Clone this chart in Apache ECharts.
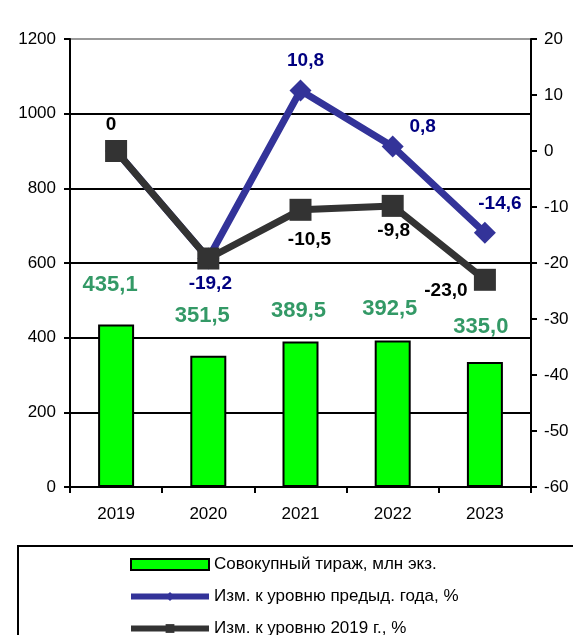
<!DOCTYPE html>
<html>
<head>
<meta charset="utf-8">
<script src="https://cdn.jsdelivr.net/npm/echarts@6/dist/echarts.min.js"></script>
<style>
  html, body { margin: 0; padding: 0; background: #fff; }
  #chart { width: 573px; height: 635px; }
</style>
</head>
<body>
<div id="chart"></div>
<script>
// ── Данные ───────────────────────────────────────
const years = ['2019', '2020', '2021', '2022', '2023'];
const circulation = [435.1, 351.5, 389.5, 392.5, 335.0];      // млн экз.
const changePrevYear = [0, -19.2, 10.8, 0.8, -14.6];           // %
const change2019 = [0, -19.2, -10.5, -9.8, -23.0];             // %

const leftTicks = { min: 0, max: 1200, interval: 200 };
const rightTicks = { min: -60, max: 20, interval: 10 };

const seriesNames = [
  'Совокупный тираж, млн экз.',
  'Изм. к уровню предыд. года, %',
  'Изм. к уровню 2019 г., %'
];

// ── Расположение подписей (как вручную сдвинуто в Excel) ──
const barLabelShift = [[-6, -29], [-6, -29], [-2, -20], [-3, -21], [-4, -24]];
const prevLabelShift = [null, [2, 25], [5, -30], [30, -20], [15, -29]];
const base2019LabelShift = [[-5, -26], null, [9, 30], [1, 25], [-39, 11]];

const fmt = v => (v === 0 ? '0' : v.toFixed(1).replace('.', ','));
const FONT = '"Liberation Sans", Arial, sans-serif';

const chart = echarts.init(document.getElementById('chart'), null, { renderer: 'canvas' });

const lineData = (values, shifts, color) => values.map((v, i) => ({
  value: v,
  label: shifts[i]
    ? { show: true, position: 'inside', offset: shifts[i], color, formatter: fmt(v) }
    : { show: false }
}));

const axisLabel = margin => ({
  color: '#000', fontSize: 17, margin, fontFamily: FONT,
  formatter: v => String(v)
});

chart.setOption({
  backgroundColor: '#fff',
  animation: false,
  textStyle: { fontFamily: FONT },
  grid: { left: 70, right: 42, top: 39, bottom: 148, containLabel: false },
  legend: {
    orient: 'vertical',
    left: 18,
    top: 546,
    height: 120,
    padding: [10, 250, 20, 110],
    borderColor: '#000',
    borderWidth: 2,
    itemWidth: 78,
    itemHeight: 11,
    itemGap: 15,
    lineStyle: { width: 6 },
    textStyle: { fontSize: 17, color: '#000', fontFamily: FONT },
    data: [
      { name: seriesNames[0], icon: 'rect' },
      { name: seriesNames[1] },
      { name: seriesNames[2] }
    ]
  },
  xAxis: {
    type: 'category',
    data: years,
    boundaryGap: true,
    axisLine: { show: true, lineStyle: { color: '#000', width: 2 } },
    axisTick: { show: true, length: 6, lineStyle: { color: '#000', width: 2 } },
    axisLabel: { color: '#000', fontSize: 17, margin: 19, fontFamily: FONT },
    splitLine: { show: false }
  },
  yAxis: [
    {
      type: 'value',
      position: 'left',
      ...leftTicks,
      axisLine: { show: true, lineStyle: { color: '#000', width: 2 } },
      axisTick: { show: true, length: 6, lineStyle: { color: '#000', width: 2 } },
      axisLabel: axisLabel(14),
      splitLine: {
        show: true,
        lineStyle: { color: ['#000', '#000', '#000', '#000', '#000', '#000', '#999'], width: 2 }
      }
    },
    {
      type: 'value',
      position: 'right',
      ...rightTicks,
      axisLine: { show: true, lineStyle: { color: '#000', width: 2 } },
      axisTick: { show: true, length: 6, lineStyle: { color: '#000', width: 2 } },
      axisLabel: axisLabel(13),
      splitLine: { show: false }
    }
  ],
  series: [
    {
      name: seriesNames[0],
      type: 'bar',
      yAxisIndex: 0,
      barWidth: 36,
      itemStyle: { color: '#00ff00', borderColor: '#000', borderWidth: 2 },
      data: circulation.map((v, i) => ({
        value: v,
        label: {
          show: true,
          position: 'top',
          distance: 0,
          offset: barLabelShift[i],
          color: '#339966',
          fontSize: 22,
          fontWeight: 'bold',
          fontFamily: FONT,
          formatter: fmt(v)
        }
      })),
      z: 2
    },
    {
      name: seriesNames[1],
      type: 'line',
      yAxisIndex: 1,
      symbol: 'diamond',
      symbolSize: 22,
      lineStyle: { color: '#333399', width: 7 },
      itemStyle: { color: '#333399' },
      label: { fontSize: 19, fontWeight: 'bold', fontFamily: FONT },
      data: lineData(changePrevYear, prevLabelShift, '#000080'),
      z: 3
    },
    {
      name: seriesNames[2],
      type: 'line',
      yAxisIndex: 1,
      symbol: 'rect',
      symbolSize: 22,
      lineStyle: { color: '#333333', width: 7 },
      itemStyle: { color: '#333333' },
      label: { fontSize: 19, fontWeight: 'bold', fontFamily: FONT },
      data: lineData(change2019, base2019LabelShift, '#000'),
      z: 4
    }
  ]
});
</script>
</body>
</html>
